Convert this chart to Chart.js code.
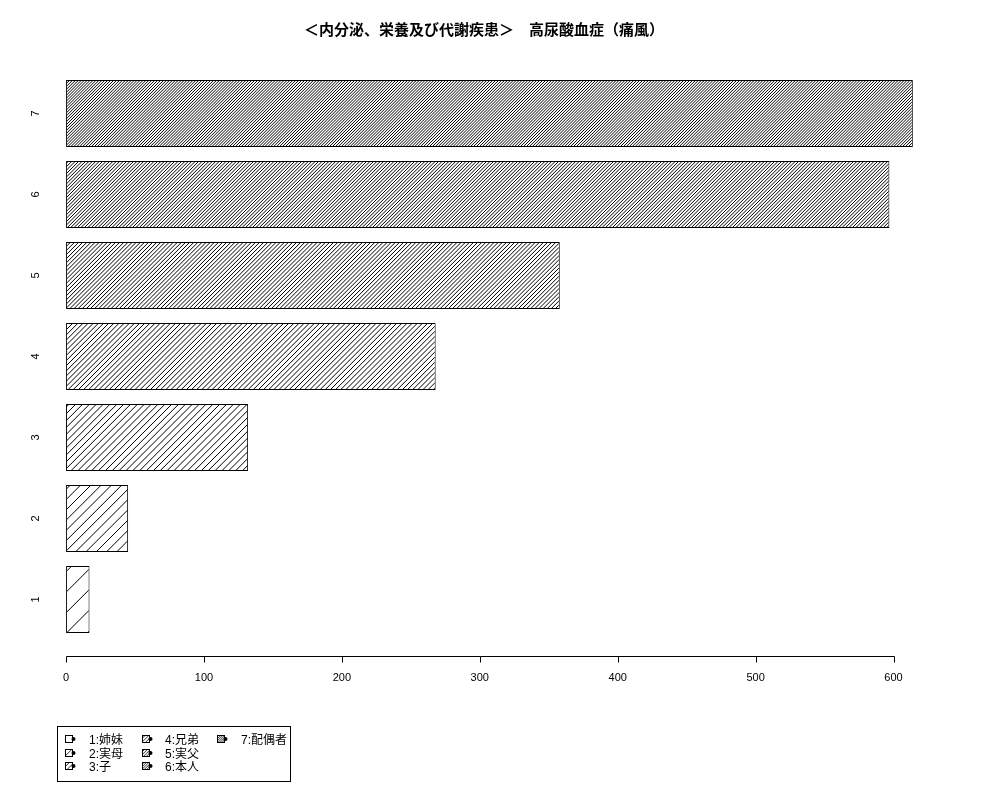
<!DOCTYPE html>
<html><head><meta charset="utf-8">
<script src="https://cdn.jsdelivr.net/npm/chart.js@4.4.1/dist/chart.umd.min.js"></script>
<style>
body{margin:0;background:#fff;}
#wrap{position:relative;width:1000px;height:800px;}
#c{position:absolute;left:0;top:0;}
#legendBox{position:absolute;left:57px;top:726px;width:234px;height:56px;border:1px solid #000;box-sizing:border-box;}
.lt{position:absolute;font-family:"Liberation Sans","Noto Sans CJK JP",sans-serif;font-size:12px;line-height:14px;height:14px;white-space:nowrap;color:#000;}
.sw{position:absolute;}
</style></head>
<body><div id="wrap"><canvas id="c" width="1000" height="800"></canvas><div id="legendBox"></div></div>
<script>
// ---- data ----
const titleText = '＜内分泌、栄養及び代謝疾患＞　高尿酸血症（痛風）';
const categories = ['1','2','3','4','5','6','7'];
const counts = [17, 45, 132, 268, 358, 597, 614];
const legendLabels = ['1:姉妹','2:実母','3:子','4:兄弟','5:実父','6:本人','7:配偶者'];
const xTicks = [0, 100, 200, 300, 400, 500, 600];

// ---- style ----
const hatchDensity = [5, 10, 15, 20, 25, 30, 35];

function makeHatch(density, lw) {
  const T = 144;
  const s = 72 * Math.SQRT2 / density;
  const n = Math.max(1, Math.round(T / s));
  const step = T / n;
  const cv = document.createElement('canvas');
  cv.width = T; cv.height = T;
  const g = cv.getContext('2d');
  g.fillStyle = '#fff'; g.fillRect(0, 0, T, T);
  g.strokeStyle = '#000'; g.lineWidth = lw;
  g.beginPath();
  for (let k = -1; k <= 2 * n + 1; k++) {
    const c = k * step;
    g.moveTo(c + 2, -2); g.lineTo(-2, c + 2);
  }
  g.stroke();
  return g.createPattern(cv, 'repeat');
}
const ctx = document.getElementById('c').getContext('2d');
const patterns = hatchDensity.map(d => makeHatch(d, 1));

const axisPlugin = {
  id: 'rAxis',
  afterDraw(chart) {
    const c = chart.ctx, xs = chart.scales.x, ys = chart.scales.y;
    const y0 = Math.round(chart.chartArea.bottom + 16) + 0.5;
    c.save();
    c.strokeStyle = '#000'; c.lineWidth = 1;
    c.beginPath();
    const xa = Math.round(xs.getPixelForValue(xTicks[0])) + 0.5;
    const xb = Math.round(xs.getPixelForValue(xTicks[xTicks.length - 1])) + 0.5;
    c.moveTo(xa, y0); c.lineTo(xb, y0);
    xTicks.forEach(v => {
      const px = Math.round(xs.getPixelForValue(v)) + 0.5;
      c.moveTo(px, y0); c.lineTo(px, y0 + 6);
    });
    c.stroke();
    c.fillStyle = '#000';
    c.font = '11px "Liberation Sans", Arial, sans-serif';
    c.textAlign = 'center'; c.textBaseline = 'middle';
    ys.ticks.forEach((t, i) => {
      const py = ys.getPixelForTick(i);
      c.save();
      c.translate(36, py);
      c.rotate(-Math.PI / 2);
      c.fillText(ys.getLabelForValue(t.value), 0, 0);
      c.restore();
    });
    c.restore();
  }
};

new Chart(ctx, {
  type: 'bar',
  data: {
    labels: categories,
    datasets: [{
      data: counts,
      backgroundColor: patterns,
      borderColor: '#000',
      borderWidth: 1,
      borderSkipped: false,
      categoryPercentage: 1,
      barPercentage: 0.827
    }]
  },
  options: {
    indexAxis: 'y',
    responsive: false,
    animation: false,
    devicePixelRatio: 1,
    layout: { padding: { top: 0, left: 0, right: 32, bottom: 100 } },
    plugins: {
      legend: { display: false },
      tooltip: { enabled: false },
      title: {
        display: true,
        text: titleText,
        color: '#000',
        font: { family: '"Noto Sans CJK JP", sans-serif', size: 15, weight: 'bold', lineHeight: 1.2 },
        padding: { top: 20, bottom: 35 }
      }
    },
    scales: {
      x: {
        type: 'linear',
        min: -16, max: 654,
        grid: { display: false, drawTicks: false },
        border: { display: false },
        afterBuildTicks: s => { s.ticks = xTicks.map(v => ({ value: v })); },
        afterFit: s => { s.height = 60; },
        ticks: {
          color: '#000',
          padding: 31,
          font: { family: '"Liberation Sans", Arial, sans-serif', size: 11 },
          maxRotation: 0, autoSkip: false
        }
      },
      y: {
        reverse: true,
        grid: { display: false, drawTicks: false },
        border: { display: false },
        ticks: { display: false },
        afterFit: s => { s.width = 44; }
      }
    }
  },
  plugins: [axisPlugin]
});

// ---- legend (HTML) ----
const wrap = document.getElementById('wrap');
const swX = [65, 142, 217], txX = [89, 165, 241], rowY = [740, 753.5, 767];
legendLabels.forEach((lab, i) => {
  const col = Math.floor(i / 3), row = i % 3;
  const sw = document.createElement('canvas');
  sw.width = 12; sw.height = 9; sw.className = 'sw';
  sw.style.left = swX[col] + 'px';
  sw.style.top = (rowY[row] - 5) + 'px';
  const g = sw.getContext('2d');
  g.fillStyle = makeHatch(hatchDensity[i] * 1.4, 0.8);
  g.fillRect(0.5, 0.5, 7, 7);
  g.strokeStyle = '#000'; g.lineWidth = 1;
  g.strokeRect(0.5, 0.5, 7, 7);
  g.fillStyle = '#000';
  g.beginPath(); g.arc(8.5, 4, 2, 0, Math.PI * 2); g.fill();
  wrap.appendChild(sw);
  const t = document.createElement('div');
  t.className = 'lt';
  t.textContent = lab;
  t.style.left = txX[col] + 'px';
  t.style.top = (rowY[row] - 7) + 'px';
  wrap.appendChild(t);
});
</script>
</body></html>
